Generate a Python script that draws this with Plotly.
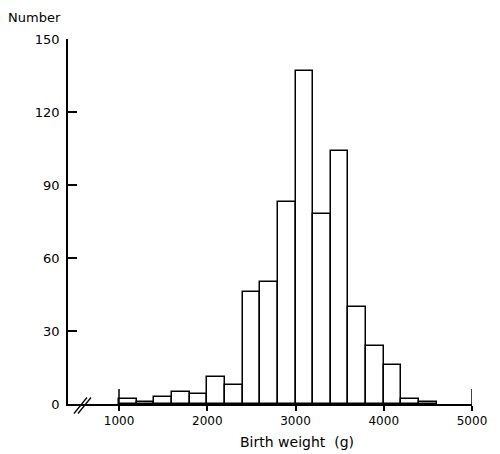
import plotly.graph_objects as go

# Birth weight histogram: 200 g bins starting at 1000 g
bin_starts = [1000, 1200, 1400, 1600, 1800, 2000, 2200, 2400, 2600, 2800,
              3000, 3200, 3400, 3600, 3800, 4000, 4200, 4400]
counts = [2, 1, 3, 5, 4, 11, 8, 46, 50, 83,
          137, 78, 104, 40, 24, 16, 2, 1]
bin_width = 200

x_ticks = [1000, 2000, 3000, 4000, 5000]
y_ticks = [0, 30, 60, 90, 120, 150]

FONT = "DejaVu Sans"

fig = go.Figure()
fig.add_trace(go.Bar(
    x=bin_starts, y=counts, width=[bin_width] * len(counts), offset=0,
    marker=dict(color="white", line=dict(color="black", width=1.5)),
    showlegend=False, hoverinfo="x+y",
))

# page body has an 8px default margin, so the figure is 8px smaller
fig.update_layout(
    width=492, height=446,
    margin=dict(l=60, r=28, t=30.5, b=49.5, autoexpand=False),
    plot_bgcolor="white", paper_bgcolor="white",
    font=dict(family=FONT, size=12, color="black"),
    bargap=0,
    xaxis=dict(
        range=[422, 5000], tickvals=x_ticks, ticktext=[str(v) for v in x_ticks],
        showline=True, linecolor="black", linewidth=1.5,
        ticks="outside", ticklen=5, tickwidth=1.5, tickcolor="black",
        showgrid=False, zeroline=False, tickfont=dict(size=12),
        automargin=False,
    ),
    yaxis=dict(
        range=[0, 150], tickvals=y_ticks, ticktext=[str(v) for v in y_ticks],
        showline=True, linecolor="black", linewidth=1.5,
        ticks="inside", ticklen=9, tickwidth=1.5, tickcolor="black",
        showgrid=False, zeroline=False, tickfont=dict(size=13),
        ticklabelstandoff=4, automargin=False,
    ),
)

# taller ticks at the ends of the weight scale
for xv in (x_ticks[0], x_ticks[-1]):
    fig.add_shape(type="line", xref="x", yref="paper", x0=xv, x1=xv,
                  y0=0, y1=15 / 366, line=dict(color="black", width=1.5))

# axis break symbol "//"
for dx in (0, 4):
    fig.add_shape(type="line", xref="paper", yref="paper",
                  xsizemode="pixel", ysizemode="pixel", xanchor=0, yanchor=0,
                  x0=6 + dx, y0=-9.5, x1=19 + dx, y1=6.5,
                  line=dict(color="black", width=1.3))

fig.add_annotation(text="Number", xref="paper", yref="paper", x=0, y=1,
                   xanchor="right", yanchor="middle", xshift=-5, yshift=21.5,
                   showarrow=False, font=dict(family=FONT, size=13))
fig.add_annotation(text="Birth weight  (g)", xref="paper", yref="paper",
                   x=0.568, y=0, xanchor="center", yanchor="middle",
                   yshift=-37.5, showarrow=False,
                   font=dict(family=FONT, size=14))

fig.write_html("out.html")
